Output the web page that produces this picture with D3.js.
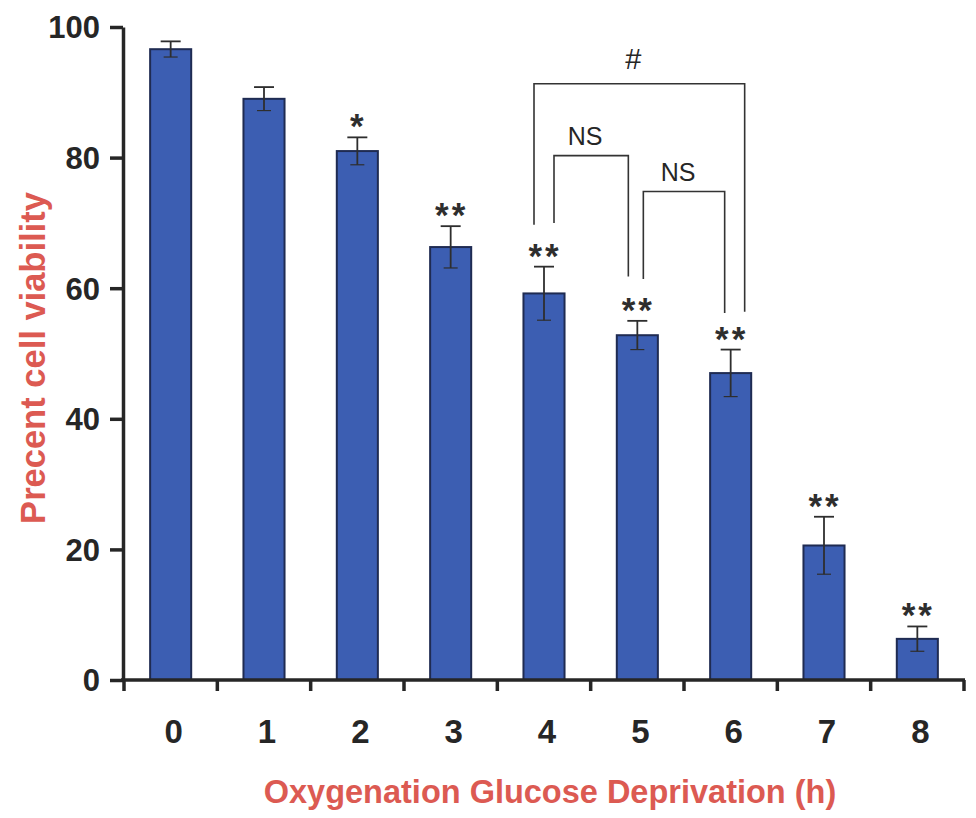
<!DOCTYPE html>
<html>
<head>
<meta charset="utf-8">
<script src="https://cdn.jsdelivr.net/npm/d3@7"></script>
<style>
  html, body { margin: 0; padding: 0; background: #ffffff; }
  svg { display: block; }
  text { font-family: "Liberation Sans", Arial, sans-serif; }
</style>
</head>
<body>
<svg id="chart" width="976" height="818"></svg>
<script>
// OGD duration (hours) and mean cell viability (%) with SEM
const hours = ["0", "1", "2", "3", "4", "5", "6", "7", "8"];
const viability = [96.6, 89.0, 81.0, 66.3, 59.2, 52.8, 47.0, 20.6, 6.3];
const sem = [1.2, 1.8, 2.1, 3.2, 4.1, 2.2, 3.6, 4.4, 1.9];
const significance = ["", "", "*", "**", "**", "**", "**", "**", "**"];
const yTicks = [0, 20, 40, 60, 80, 100];

// Pairwise comparison brackets: bar indices, label, bracket height and leg ends (in % units)
const comparisons = [
  { a: 4, b: 6, label: "#",  level: 91.3, endA: 69.7, endB: 56.4 },
  { a: 4, b: 5, label: "NS", level: 80.3, endA: 70.0, endB: 61.8 },
  { a: 5, b: 6, label: "NS", level: 74.8, endA: 61.4, endB: 56.2 }
];

const svg = d3.select("#chart");
const ink = "#262626";
const red = "#dc5a52";

const x = d3.scaleBand().domain(hours).range([124, 964]).paddingInner(0.56).paddingOuter(0.28);
const y = d3.scaleLinear().domain([0, 100]).range([680, 27]);
const step = x.step();

// bars
svg.append("g").selectAll("rect").data(viability).join("rect")
  .attr("x", (d, i) => x(hours[i]))
  .attr("y", d => y(d))
  .attr("width", x.bandwidth())
  .attr("height", d => y(0) - y(d))
  .attr("fill", "#3c5eb2")
  .attr("stroke", "#1f2b52")
  .attr("stroke-width", 2);

// error bars
const eb = svg.append("g").attr("stroke", "#2e2e2e").attr("stroke-width", 1.8);
viability.forEach((v, i) => {
  const cx = x(hours[i]) + x.bandwidth() / 2;
  eb.append("line").attr("x1", cx).attr("x2", cx).attr("y1", y(v + sem[i])).attr("y2", y(v - sem[i]));
  eb.append("line").attr("x1", cx - 10).attr("x2", cx + 10).attr("y1", y(v + sem[i])).attr("y2", y(v + sem[i]));
  eb.append("line").attr("x1", cx - 7).attr("x2", cx + 7).attr("y1", y(v - sem[i])).attr("y2", y(v - sem[i])).attr("stroke-width", 1.2);
});

// significance stars
svg.append("g").selectAll("text").data(significance).join("text")
  .attr("x", (d, i) => x(hours[i]) + x.bandwidth() / 2 + 1)
  .attr("y", (d, i) => y(viability[i] + sem[i]) + 1)
  .attr("text-anchor", "middle")
  .attr("font-size", 35)
  .attr("font-weight", "bold")
  .attr("letter-spacing", 3)
  .attr("fill", "#2e2e2e")
  .text(d => d);

// comparison brackets
const legOffsets = [[-10, 14], [10, -9], [6, -6]];
const br = svg.append("g");
comparisons.forEach((c, k) => {
  const xa = x(hours[c.a]) + x.bandwidth() / 2 + legOffsets[k][0];
  const xb = x(hours[c.b]) + x.bandwidth() / 2 + legOffsets[k][1];
  br.append("path")
    .attr("d", d3.line()([[xa, y(c.endA)], [xa, y(c.level)], [xb, y(c.level)], [xb, y(c.endB)]]))
    .attr("fill", "none").attr("stroke", "#333").attr("stroke-width", 1.6);
  br.append("text")
    .attr("x", (xa + xb) / 2 - 6)
    .attr("y", y(c.level) - (c.label === "#" ? 15 : 11))
    .attr("text-anchor", "middle")
    .attr("font-size", c.label === "#" ? 29 : 25)
    .attr("fill", ink)
    .text(c.label);
});

// y axis
const yAxis = svg.append("g").attr("transform", "translate(123,0)")
  .call(d3.axisLeft(y).tickValues(yTicks).tickSize(13).tickPadding(10).tickSizeOuter(0));
yAxis.select(".domain").attr("stroke", ink).attr("stroke-width", 3.5);
yAxis.selectAll(".tick line").attr("stroke", ink).attr("stroke-width", 3.5);
yAxis.selectAll(".tick text")
  .attr("font-size", 31).attr("font-weight", "bold").attr("fill", ink)
  .attr("font-family", "Liberation Sans, Arial, sans-serif").attr("dy", "0.35em");

// x axis: ticks fall on the category boundaries
const bounds = d3.range(hours.length + 1).map(i => 124 + i * step);
const xa = svg.append("g");
xa.append("line").attr("x1", 121).attr("x2", 965).attr("y1", y(0)).attr("y2", y(0))
  .attr("stroke", ink).attr("stroke-width", 3.5);
xa.selectAll("line.tk").data(bounds).join("line").attr("class", "tk")
  .attr("x1", d => d).attr("x2", d => d).attr("y1", y(0)).attr("y2", y(0) + 11)
  .attr("stroke", ink).attr("stroke-width", 3.5);
xa.selectAll("text").data(hours).join("text")
  .attr("x", d => x(d) + x.bandwidth() / 2 + 3)
  .attr("y", 743)
  .attr("text-anchor", "middle")
  .attr("font-size", 33).attr("font-weight", "bold").attr("fill", ink)
  .text(d => d);

// axis titles
svg.append("text")
  .attr("x", 550).attr("y", 803)
  .attr("text-anchor", "middle")
  .attr("font-size", 32.5).attr("font-weight", "bold").attr("fill", red)
  .text("Oxygenation Glucose Deprivation (h)");

svg.append("text")
  .attr("transform", "translate(45,358) rotate(-90)")
  .attr("text-anchor", "middle")
  .attr("font-size", 34.5).attr("font-weight", "bold").attr("fill", red)
  .text("Precent cell viability");
</script>
</body>
</html>
